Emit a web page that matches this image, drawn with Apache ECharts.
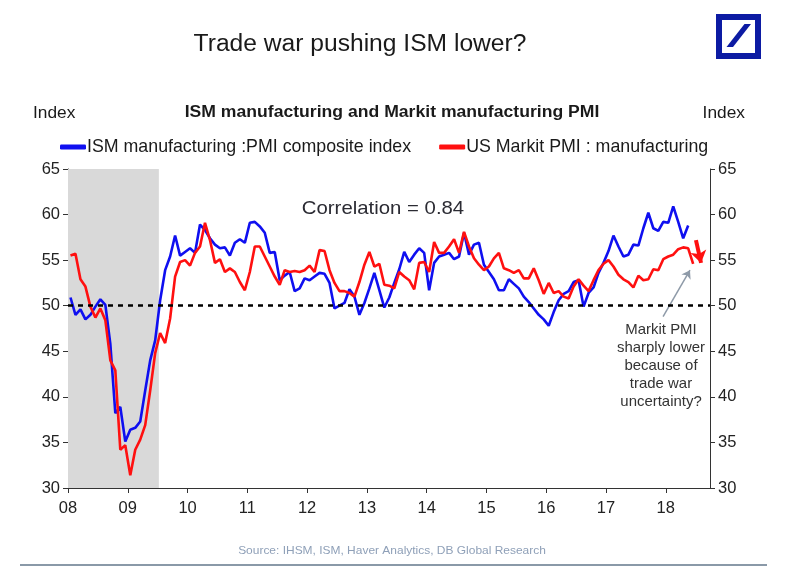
<!DOCTYPE html>
<html>
<head>
<meta charset="utf-8">
<script src="https://cdn.jsdelivr.net/npm/echarts@6/dist/echarts.min.js"></script>
<style>
html,body{margin:0;padding:0;background:#fff;}
#chart{width:800px;height:571px;}
</style>
</head>
<body>
<div id="chart"></div>
<script>
// Monthly data, index 0 = Jan 2008
var startYear = 2008;
var ismValues = [
  50.9, 49.0, 49.6, 48.5, 49.0, 49.9, 50.7, 50.1, 45.8, 38.2, 38.9, 35.1,
  36.4, 36.6, 37.3, 40.7, 44.0, 46.2, 50.6, 53.9, 55.4, 57.7, 55.5, 55.9,
  56.3, 55.8, 58.9, 58.3, 57.4, 56.7, 56.3, 56.4, 55.5, 56.9, 57.3, 56.9,
  59.1, 59.2, 58.7, 58.0, 55.8, 55.9, 52.8, 53.3, 53.7, 51.6, 51.9, 53.0,
  52.8, 53.2, 53.6, 53.5, 52.5, 49.7, 50.0, 50.3, 51.8, 51.0, 49.0, 50.3,
  51.9, 53.6, 51.7, 49.8, 50.9, 52.5, 54.0, 55.9, 54.8, 55.6, 56.3, 55.8,
  51.7, 54.7, 55.4, 55.6, 55.8, 55.1, 55.4, 58.0, 55.6, 56.7, 56.9, 54.5,
  53.7, 52.9, 51.7, 51.7, 52.9, 52.4, 51.9, 51.0, 50.4, 49.7, 49.0, 48.5,
  47.8, 49.3, 50.6, 51.3, 51.6, 52.6, 52.8, 49.9, 51.4, 52.0, 53.6, 54.7,
  56.0, 57.7, 56.5, 55.4, 55.6, 56.7, 56.6, 58.5, 60.2, 58.5, 58.2, 59.2,
  59.1, 60.9, 59.2, 57.4, 58.8
];
var markitValues = [
  55.5, 55.7, 52.9, 52.1, 49.9, 48.7, 49.7, 48.4, 44.0, 42.9, 34.2, 34.7,
  31.4, 34.2, 35.3, 36.9, 40.7, 44.8, 47.0, 45.9, 48.6, 53.2, 54.8, 55.0,
  54.4, 55.8, 56.5, 59.1, 57.2, 54.7, 55.1, 53.7, 54.1, 53.7, 52.6, 51.7,
  53.7, 56.5, 56.5, 55.4, 54.3, 53.2, 52.3, 53.9, 53.7, 53.8, 53.7, 53.9,
  54.4, 53.7, 56.1, 56.0, 53.9, 52.5, 51.6, 51.6, 51.4, 51.0, 52.6, 54.5,
  55.9, 54.3, 54.6, 52.3, 52.2, 51.9, 53.7, 53.2, 52.8, 51.8, 54.7, 54.8,
  53.7, 57.0, 55.8, 55.8, 56.5, 57.3, 55.8, 58.1, 56.5, 55.2, 54.5, 53.9,
  54.3, 55.2, 55.8, 54.1, 53.9, 53.6, 53.9, 53.0, 53.0, 54.1, 52.8, 51.3,
  52.5, 51.4, 51.6, 51.0, 50.8, 52.1, 52.9, 52.2, 51.6, 52.8, 53.9, 54.6,
  55.0, 54.3, 53.4, 52.9, 52.6, 52.0, 53.3, 52.8, 52.9, 54.0, 53.9, 55.1,
  55.4, 55.6, 56.2, 56.4, 56.3, 54.6
];
var yearTicks = ['08','09','10','11','12','13','14','15','16','17','18'];
var seriesNames = ['ISM manufacturing :PMI composite index', 'US Markit PMI : manufacturing'];
var recession = [2008, 2009.52];
var thresholdLevel = 50;

function toPairs(vals) {
  return vals.map(function (v, i) { return [startYear + (i + 0.5) / 12, v]; });
}

var FONT = "'Liberation Sans', Arial, sans-serif";
var chart = echarts.init(document.getElementById('chart'));

var yAxisCommon = {
  type: 'value', min: 30, max: 65, interval: 5,
  splitLine: { show: false },
  axisLine: { show: true, lineStyle: { color: '#333', width: 1 } },
  axisTick: { show: true, inside: false, length: 5, lineStyle: { color: '#333' } },
  axisLabel: { fontSize: 16.5, color: '#222', fontFamily: FONT, margin: 8 }
};

function txt(x, y, text, font, fill, align, sx, extra) {
  var st = { text: text, font: font, fill: fill, align: align || 'left', verticalAlign: 'middle' };
  if (extra) { for (var k in extra) st[k] = extra[k]; }
  return { type: 'text', x: x, y: y, scaleX: sx || 1, style: st, z: 10 };
}

var option = {
  animation: false,
  backgroundColor: '#fff',
  grid: { left: 68, right: 90, top: 169, bottom: 83, containLabel: false },
  legend: {
    left: 55, top: 133,
    icon: 'roundRect', itemWidth: 26, itemHeight: 5, itemGap: 28,
    textStyle: { fontSize: 17.8, color: '#1a1a1a', fontFamily: FONT, padding: [0, 0, 0, -4] },
    data: seriesNames
  },
  xAxis: {
    type: 'value', min: 2008, max: 2018.74, interval: 1,
    splitLine: { show: false },
    axisLine: { show: true, onZero: false, lineStyle: { color: '#333', width: 1 } },
    axisTick: { show: true, length: 5, lineStyle: { color: '#333' } },
    axisLabel: {
      fontSize: 16.5, color: '#222', fontFamily: FONT, margin: 12,
      showMaxLabel: false,
      formatter: function (v) { var i = Math.round(v - startYear); return yearTicks[i] || ''; }
    }
  },
  yAxis: [
    Object.assign({ position: 'left' }, yAxisCommon),
    Object.assign({ position: 'right' }, yAxisCommon)
  ],
  series: [
    {
      name: 'bg', type: 'line', data: [], z: 1, silent: true,
      markArea: {
        silent: true,
        itemStyle: { color: '#d9d9d9' },
        data: [[{ xAxis: recession[0] }, { xAxis: recession[1] }]]
      }
    },
    {
      name: seriesNames[0], type: 'line', z: 3,
      data: toPairs(ismValues),
      showSymbol: false, symbol: 'none',
      lineStyle: { color: '#0f0ff0', width: 2.6 },
      itemStyle: { color: '#0f0ff0' }
    },
    {
      name: seriesNames[1], type: 'line', z: 4,
      data: toPairs(markitValues),
      showSymbol: false, symbol: 'none',
      lineStyle: { color: '#ff1010', width: 2.6 },
      itemStyle: { color: '#ff1010' },
      markLine: {
        silent: true, animation: false,
        label: { show: false },
        data: [
          [
            { coord: [2018.505, 57.2], symbol: 'none', lineStyle: { color: '#ff1010', width: 4, type: 'solid' } },
            { coord: [2018.59, 54.7], symbol: 'arrow', symbolSize: 12 }
          ],
          [
            { coord: [2017.955, 48.8], symbol: 'none', lineStyle: { color: '#8e9aa8', width: 1.5, type: 'solid' } },
            { coord: [2018.405, 53.9], symbol: 'arrow', symbolSize: 8 }
          ]
        ]
      }
    },
    {
      name: 'threshold', type: 'line', data: [], z: 5, silent: true,
      markLine: {
        silent: true, symbol: 'none', animation: false,
        label: { show: false },
        lineStyle: { color: '#000', width: 2.5, type: [5, 5] },
        data: [{ yAxis: thresholdLevel }]
      }
    }
  ],
  graphic: [
    txt(360, 45, 'Trade war pushing ISM lower?', '23px ' + FONT, '#1a1a1a', 'center', 1.07),
    txt(392, 113, 'ISM manufacturing and Markit manufacturing PMI', 'bold 16px ' + FONT, '#1a1a1a', 'center', 1.1),
    txt(33, 113, 'Index', '16.5px ' + FONT, '#1a1a1a', 'left', 1.05),
    txt(745, 113, 'Index', '16.5px ' + FONT, '#1a1a1a', 'right', 1.05),
    txt(383, 209, 'Correlation = 0.84', '18.5px ' + FONT, '#2b2b33', 'center', 1.1),
    txt(661, 366, 'Markit PMI\nsharply lower\nbecause of\ntrade war\nuncertainty?', '14.5px ' + FONT, '#333', 'center', 1.03, { lineHeight: 18 }),
    txt(392, 551, 'Source: IHSM, ISM, Haver Analytics, DB Global Research', '11.5px ' + FONT, '#8fa0b8', 'center', 1.04),
    { type: 'line', shape: { x1: 20, y1: 565, x2: 767, y2: 565 }, style: { stroke: '#8a99a8', lineWidth: 2 } },
    { type: 'rect', shape: { x: 719, y: 17, width: 39, height: 39 }, style: { fill: 'none', stroke: '#0c1ba3', lineWidth: 6 } },
    { type: 'polygon', shape: { points: [[726.5, 47], [733, 47], [751, 24], [744.5, 24]] }, style: { fill: '#0c1ba3' } }
  ]
};
chart.setOption(option);
</script>
</body>
</html>
